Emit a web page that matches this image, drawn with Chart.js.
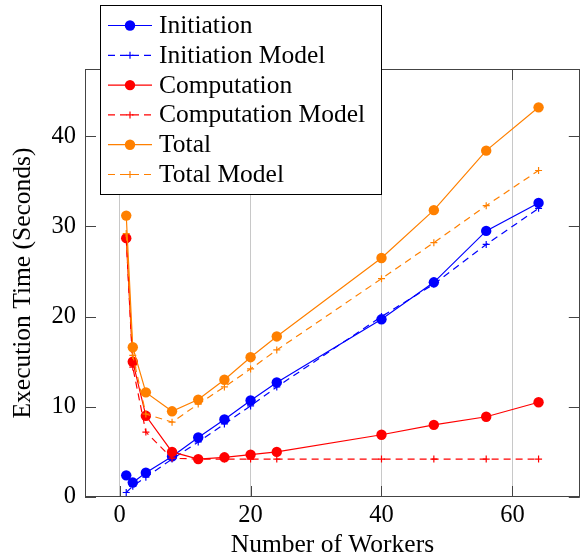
<!DOCTYPE html>
<html>
<head>
<meta charset="utf-8">
<script src="https://cdn.jsdelivr.net/npm/chart.js@4.4.1/dist/chart.umd.min.js"></script>
<style>
html, body { margin: 0; padding: 0; background: #fff; }
</style>
</head>
<body>
<canvas id="timeChart" width="585" height="559"></canvas>
<script>
// values
const workers = [1, 2, 4, 8, 12, 16, 20, 24, 40, 48, 56, 64];
const initiation = [2.4, 1.6, 2.7, 4.5, 6.6, 8.6, 10.7, 12.7, 19.7, 23.8, 29.5, 32.6];
const initiationModel = [0.5, 1.2, 2.2, 4.2, 6.1, 8.1, 10.1, 12.2, 20.0, 23.6, 28.0, 32.0];
const computation = [28.7, 15.0, 9.0, 5.0, 4.2, 4.4, 4.7, 5.0, 6.9, 8.0, 8.9, 10.5];
const computationModel = [28.7, 14.4, 7.2, 4.3, 4.2, 4.2, 4.2, 4.2, 4.2, 4.2, 4.2, 4.2];
const total = [31.2, 16.6, 11.6, 9.5, 10.8, 13.0, 15.5, 17.8, 26.5, 31.8, 38.4, 43.2];
const totalModel = [29.2, 15.7, 9.2, 8.3, 10.3, 12.2, 14.2, 16.3, 24.2, 28.2, 32.3, 36.2];

const seriesNames = ["Initiation", "Initiation Model", "Computation", "Computation Model", "Total", "Total Model"];
const seriesValues = [initiation, initiationModel, computation, computationModel, total, totalModel];
const seriesColors = ["#0000ff", "#0000ff", "#ff0000", "#ff0000", "#ff8000", "#ff8000"];

const xTicks = [0, 20, 40, 60];
const yTicks = [0, 10, 20, 30, 40];

const serif = "'Liberation Serif', 'Times New Roman', serif";
const dash = [7, 5];

function toPoints(values) {
    return workers.map(function (w, i) { return { x: w, y: values[i] }; });
}

const datasets = seriesNames.map(function (name, i) {
    const isModel = i % 2 == 1;
    return {
        label: name,
        data: toPoints(seriesValues[i]),
        borderColor: seriesColors[i],
        backgroundColor: seriesColors[i],
        borderWidth: 1.2,
        borderDash: isModel ? dash : [],
        pointStyle: isModel ? 'cross' : 'circle',
        pointRadius: isModel ? 3.5 : 5.2,
        pointBorderWidth: isModel ? 1.2 : 0,
        tension: 0,
        order: 6 - i
    };
});

// box around the plot plus inward tick marks on all sides
const framePlugin = {
    id: 'frame',
    afterDatasetsDraw(chart) {
        const ctx = chart.ctx;
        const a = chart.chartArea;
        const sx = chart.scales.x, sy = chart.scales.y;
        ctx.save();
        ctx.setLineDash([]);
        ctx.strokeStyle = '#444';
        ctx.lineWidth = 1;
        ctx.beginPath();
        xTicks.forEach(function (v) {
            const px = Math.round(sx.getPixelForValue(v)) + 0.5;
            ctx.moveTo(px, a.bottom); ctx.lineTo(px, a.bottom - 11);
            ctx.moveTo(px, a.top); ctx.lineTo(px, a.top + 11);
        });
        yTicks.forEach(function (v) {
            const py = Math.round(sy.getPixelForValue(v)) + 0.5;
            ctx.moveTo(a.left, py); ctx.lineTo(a.left + 11, py);
            ctx.moveTo(a.right, py); ctx.lineTo(a.right - 11, py);
        });
        ctx.stroke();
        ctx.strokeRect(Math.round(a.left) + 0.5, Math.round(a.top) + 0.5, Math.round(a.width) - 1, Math.round(a.height) - 1);
        ctx.restore();
    }
};

// pgfplots style legend box, sitting over the top of the axis
const legendPlugin = {
    id: 'boxLegend',
    afterDraw(chart) {
        const ctx = chart.ctx;
        const box = { left: 100, top: 5, right: 382, bottom: 195 };
        ctx.save();
        ctx.fillStyle = '#fff';
        ctx.fillRect(box.left, box.top, box.right - box.left, box.bottom - box.top);
        ctx.strokeStyle = '#000';
        ctx.lineWidth = 1;
        ctx.strokeRect(box.left + 0.5, box.top + 0.5, box.right - box.left - 1, box.bottom - box.top - 1);

        seriesNames.forEach(function (name, i) {
            const y = 25.5 + i * 29.8;
            const isModel = i % 2 == 1;
            ctx.strokeStyle = seriesColors[i];
            ctx.fillStyle = seriesColors[i];
            ctx.lineWidth = 1.2;
            ctx.setLineDash(isModel ? dash : []);
            ctx.beginPath();
            ctx.moveTo(108, y); ctx.lineTo(152, y);
            ctx.stroke();
            ctx.setLineDash([]);
            if (isModel) {
                ctx.beginPath();
                ctx.moveTo(130 - 3.5, y); ctx.lineTo(130 + 3.5, y);
                ctx.moveTo(130, y - 3.5); ctx.lineTo(130, y + 3.5);
                ctx.stroke();
            } else {
                ctx.beginPath();
                ctx.arc(130, y, 5.2, 0, Math.PI * 2);
                ctx.fill();
            }
            ctx.fillStyle = '#000';
            ctx.font = '25.5px ' + serif;
            ctx.textBaseline = 'alphabetic';
            ctx.textAlign = 'left';
            ctx.fillText(name, 159, y + 7.5);
        });
        ctx.restore();
    }
};

new Chart(document.getElementById("timeChart"), {
    type: "line",
    data: { datasets: datasets },
    options: {
        responsive: false,
        animation: false,
        devicePixelRatio: 1,
        layout: { padding: { top: 69, right: 4, left: 0, bottom: 0 } },
        plugins: { legend: { display: false }, tooltip: { enabled: false } },
        scales: {
            x: {
                type: 'linear',
                min: -5.3,
                max: 70.3,
                afterFit: function (s) { s.height = 62; },
                afterBuildTicks: function (s) { s.ticks = xTicks.map(function (v) { return { value: v }; }); },
                ticks: { font: { family: serif, size: 24.5 }, color: '#000', padding: 4, maxRotation: 0 },
                grid: { color: '#c8c8c8', lineWidth: 1, drawTicks: false },
                border: { display: false },
                title: { display: true, text: 'Number of Workers', font: { family: serif, size: 25.5, lineHeight: 1 }, color: '#000', padding: 1 }
            },
            y: {
                type: 'linear',
                min: 0,
                max: 47.45,
                afterFit: function (s) { s.width = 85; },
                afterBuildTicks: function (s) { s.ticks = yTicks.map(function (v) { return { value: v }; }); },
                ticks: { font: { family: serif, size: 24.5 }, color: '#000', padding: 9 },
                grid: { display: false, drawTicks: false },
                border: { display: false },
                title: { display: true, text: 'Execution Time (Seconds)', font: { family: serif, size: 25.5, lineHeight: 1 }, color: '#000', padding: 11 }
            }
        }
    },
    plugins: [framePlugin, legendPlugin]
});
</script>
</body>
</html>
